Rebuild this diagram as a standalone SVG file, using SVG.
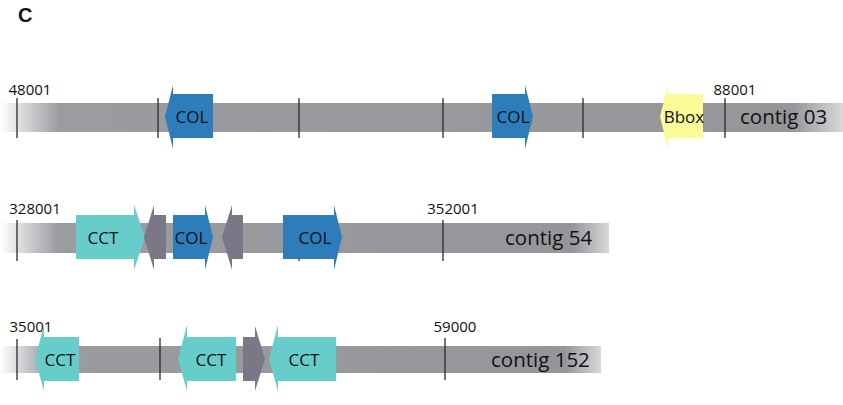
<svg xmlns="http://www.w3.org/2000/svg" width="843" height="405" viewBox="0 0 843 405">
<style>
.tick{stroke:#2a2a2a;stroke-width:1.3}
.num{font-family:"Open Sans","Liberation Sans",sans-serif;font-size:15px;fill:#111;text-anchor:middle}
.contig{font-family:"Open Sans","Liberation Sans",sans-serif;font-size:20.5px;fill:#111}
.gl{font-family:"Open Sans","Liberation Sans",sans-serif;font-size:17px;fill:#111;text-anchor:middle}
.col{fill:#2e7dbb}
.cct{fill:#66cdcb}
.bbox{fill:#fbfb98}
.gry{fill:#7a7787}
</style>
<defs>
<linearGradient id="g1" gradientUnits="userSpaceOnUse" x1="0" y1="0" x2="843" y2="0">
<stop offset="0" stop-color="#9b9ca0" stop-opacity="0"/>
<stop offset="0.07" stop-color="#9b9ca0" stop-opacity="1"/>
<stop offset="0.94" stop-color="#95969a"/>
<stop offset="1" stop-color="#d8d8d9"/>
</linearGradient>
<linearGradient id="g2" gradientUnits="userSpaceOnUse" x1="0" y1="0" x2="609" y2="0">
<stop offset="0" stop-color="#9b9ca0" stop-opacity="0"/>
<stop offset="0.095" stop-color="#9b9ca0" stop-opacity="1"/>
<stop offset="0.94" stop-color="#95969a"/>
<stop offset="1" stop-color="#d8d8d9"/>
</linearGradient>
<linearGradient id="g3" gradientUnits="userSpaceOnUse" x1="0" y1="0" x2="601" y2="0">
<stop offset="0" stop-color="#9b9ca0" stop-opacity="0"/>
<stop offset="0.08" stop-color="#9b9ca0" stop-opacity="1"/>
<stop offset="0.94" stop-color="#95969a"/>
<stop offset="1" stop-color="#d8d8d9"/>
</linearGradient>
</defs>
<rect width="843" height="405" fill="#fff"/>
<text x="18" y="22" font-family="Liberation Sans, Arial, sans-serif" font-weight="bold" font-size="20" fill="#111">C</text>

<g id="contig03">
<rect x="0" y="103" width="843" height="29" fill="url(#g1)"/>
<line class="tick" x1="17" y1="98" x2="17" y2="138"/>
<line class="tick" x1="158" y1="98" x2="158" y2="138"/>
<line class="tick" x1="299" y1="98" x2="299" y2="138"/>
<line class="tick" x1="443" y1="98" x2="443" y2="138"/>
<line class="tick" x1="583" y1="98" x2="583" y2="138"/>
<line class="tick" x1="725" y1="98" x2="725" y2="138"/>
<text class="num" x="30" y="95">48001</text>
<text class="num" x="735" y="95">88001</text>
<text class="contig" x="740" y="124">contig 03</text>
</g>
<g id="c03-col1">
<polygon class="col" points="213,94 173,94 173,85 165,116.5 173,149 173,138 213,138"/>
<text class="gl" x="192" y="123">COL</text>
</g>
<g id="c03-col2">
<polygon class="col" points="492,94 525,94 525,85 533,116.5 525,149 525,138 492,138"/>
<text class="gl" x="513" y="123">COL</text>
</g>
<g id="c03-bbox">
<polygon class="bbox" points="703,94 668,94 668,85 660,116.5 668,149 668,138 703,138"/>
<text class="gl" x="684" y="123">Bbox</text>
</g>

<g id="contig54">
<rect x="0" y="223" width="609" height="30" fill="url(#g2)"/>
<line class="tick" x1="17" y1="220" x2="17" y2="261"/>
<line class="tick" x1="299" y1="220" x2="299" y2="261"/>
<line class="tick" x1="443" y1="220" x2="443" y2="261"/>
<text class="num" x="35" y="214">328001</text>
<text class="num" x="453" y="214">352001</text>
<text class="contig" x="505" y="245">contig 54</text>
</g>
<g id="c54-cct">
<polygon class="cct" points="76,215 134,215 134,205 145,237 134,270 134,259 76,259"/>
<text class="gl" x="103" y="244">CCT</text>
</g>
<g id="c54-g1">
<polygon class="gry" points="166,215 154,215 154,205 144,237 154,270 154,259 166,259"/>
</g>
<g id="c54-col1">
<polygon class="col" points="173,215 205,215 205,205 213,237 205,270 205,259 173,259"/>
<text class="gl" x="191" y="244">COL</text>
</g>
<g id="c54-g2">
<polygon class="gry" points="243,215 232,215 232,205 222,237 232,270 232,259 243,259"/>
</g>
<g id="c54-col2">
<polygon class="col" points="283,215 334,215 334,205 342,237 334,270 334,259 283,259"/>
<text class="gl" x="315" y="244">COL</text>
</g>

<g id="contig152">
<rect x="0" y="346" width="601" height="27" fill="url(#g3)"/>
<line class="tick" x1="17" y1="339" x2="17" y2="380"/>
<line class="tick" x1="160" y1="338" x2="160" y2="380"/>
<line class="tick" x1="445" y1="338" x2="445" y2="380"/>
<text class="num" x="31" y="332">35001</text>
<text class="num" x="455" y="332">59000</text>
<text class="contig" x="491" y="367">contig 152</text>
</g>
<g id="c152-cct1">
<polygon class="cct" points="79,337 44,337 44,325 35,359 44,391 44,381 79,381"/>
<text class="gl" x="60" y="366">CCT</text>
</g>
<g id="c152-cct2">
<polygon class="cct" points="236,337 187,337 187,325 178,359 187,391 187,381 236,381"/>
<text class="gl" x="211" y="366">CCT</text>
</g>
<g id="c152-g1">
<polygon class="gry" points="243,337 255,337 255,326 265,359 255,391 255,381 243,381"/>
</g>
<g id="c152-cct3">
<polygon class="cct" points="336,337 278,337 278,325 269,359 278,391 278,381 336,381"/>
<text class="gl" x="304" y="366">CCT</text>
</g>
</svg>
